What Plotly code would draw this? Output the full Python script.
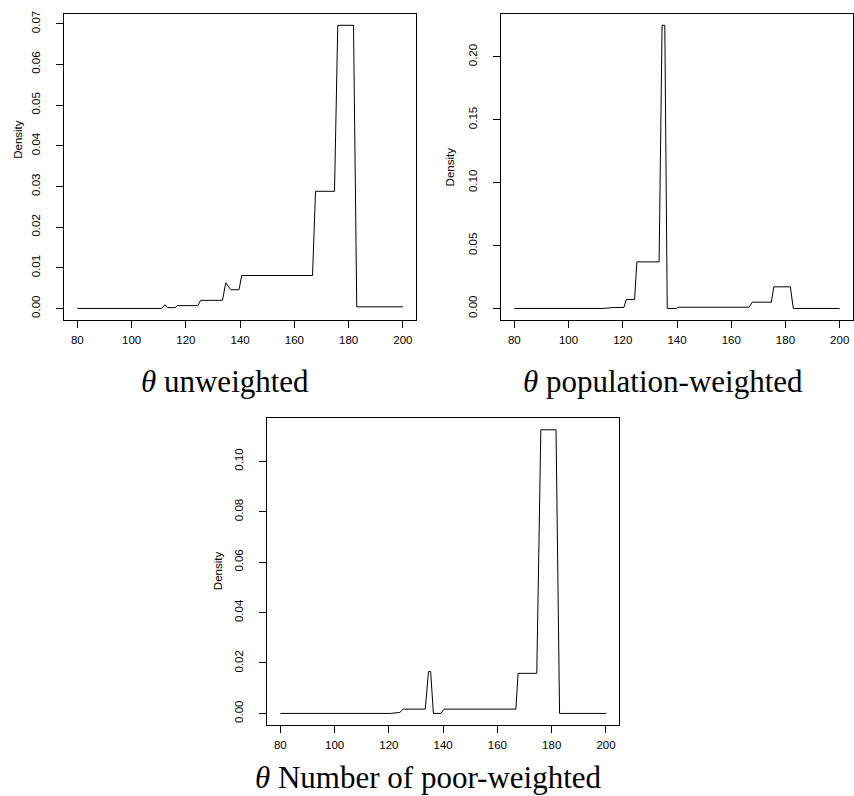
import plotly.graph_objects as go

W, H = 854, 796

# ---- data (theta, density) ----
theta_unw = [80, 111.1, 112.3, 113.2, 116.0, 116.9, 124.4, 125.5, 133.5, 134.7, 136.6,
             139.6, 140.6, 166.7, 167.8, 174.8, 176.0, 181.8, 183.0, 200]
dens_unw = [0.0000, 0.0000, 0.0009, 0.0002, 0.0002, 0.0007, 0.0007, 0.0020, 0.0020, 0.0063,
            0.0046, 0.0046, 0.0081, 0.0081, 0.0288, 0.0288, 0.0696, 0.0696, 0.0004, 0.0004]

theta_pop = [80, 112.8, 116.7, 120.4, 121.3, 124.35, 125.2, 133.4, 134.5, 135.5, 136.4,
             139.8, 140.5, 166.6, 167.8, 174.8, 175.7, 181.8, 182.9, 200]
dens_pop = [0.0000, 0.0000, 0.0008, 0.0008, 0.0071, 0.0071, 0.0370, 0.0370, 0.2250, 0.2250,
            0.0000, 0.0000, 0.0010, 0.0010, 0.0050, 0.0050, 0.0172, 0.0172, 0.0000, 0.0000]

theta_poor = [80, 120.6, 124.05, 125.3, 133.4, 134.6, 135.4, 136.4, 139.2, 140.3, 166.8,
              167.6, 174.5, 176.0, 181.6, 182.9, 200]
dens_poor = [0.0000, 0.0000, 0.0004, 0.0017, 0.0017, 0.0166, 0.0166, 0.0000, 0.0000, 0.0017,
             0.0017, 0.0159, 0.0159, 0.1125, 0.1125, 0.0000, 0.0000]

x_ticks = [80, 100, 120, 140, 160, 180, 200]
y_ticks_unw = [0.00, 0.01, 0.02, 0.03, 0.04, 0.05, 0.06, 0.07]
y_ticks_pop = [0.00, 0.05, 0.10, 0.15, 0.20]
y_ticks_poor = [0.00, 0.02, 0.04, 0.06, 0.08, 0.10]

titles = ["<i>θ</i> unweighted", "<i>θ</i> population-weighted",
          "<i>θ</i> Number of poor-weighted"]

# ---- layout geometry (pixels) ----
panels = [
    dict(x0=64.3, x1=415.9, y0=11, y1=318, yr=[-0.00279, 0.07239], yt=y_ticks_unw,
         tx=224.7, ty=380, dx=18.3, dy=137),
    dict(x0=501.3, x1=852.7, y0=11, y1=318, yr=[-0.009, 0.234], yt=y_ticks_pop,
         tx=663, ty=380, dx=450, dy=165),
    dict(x0=267.3, x1=619.0, y0=417, y1=724.5, yr=[-0.0045, 0.117], yt=y_ticks_poor,
         tx=428.7, ty=777, dx=218.3, dy=570),
]
series = [(theta_unw, dens_unw), (theta_pop, dens_pop), (theta_poor, dens_poor)]

fig = go.Figure()
tick_font = dict(family="Liberation Sans, Arial, sans-serif", size=11.5, color="black")
annotations = []
for i, (p, (xs, ys)) in enumerate(zip(panels, series)):
    n = "" if i == 0 else str(i + 1)
    fig.add_trace(go.Scatter(x=xs, y=ys, mode="lines", xaxis="x" + n, yaxis="y" + n,
                             line=dict(color="black", width=1), showlegend=False,
                             hoverinfo="skip"))
    common = dict(showline=True, linecolor="black", linewidth=1, mirror=True,
                  ticks="outside", ticklen=7, tickwidth=1, tickcolor="black",
                  showgrid=False, zeroline=False, tickfont=tick_font)
    fig.layout["xaxis" + n] = dict(
        domain=[p["x0"] / W, p["x1"] / W], anchor="y" + n,
        range=[75.2, 204.8], tickvals=x_ticks, ticktext=[str(v) for v in x_ticks],
        ticklabelstandoff=2, **common)
    fig.layout["yaxis" + n] = dict(
        domain=[1 - p["y1"] / H, 1 - p["y0"] / H], anchor="x" + n,
        range=p["yr"], tickvals=p["yt"], ticktext=["%.2f" % v for v in p["yt"]],
        tickangle=-90, ticklabelstandoff=12, **common)
    annotations.append(dict(text=titles[i], x=p["tx"] / W, y=1 - p["ty"] / H,
                            xref="paper", yref="paper", showarrow=False,
                            xanchor="center", yanchor="middle",
                            font=dict(family="Liberation Serif, serif", size=31,
                                      color="black")))
    annotations.append(dict(text="Density", x=p["dx"] / W, y=1 - p["dy"] / H,
                            xref="paper", yref="paper", showarrow=False, textangle=-90,
                            xanchor="center", yanchor="middle", font=tick_font))

fig.update_layout(width=W, height=H, margin=dict(l=0, r=0, t=0, b=0),
                  paper_bgcolor="white", plot_bgcolor="white",
                  annotations=annotations)

fig.write_html("out.html", config={"displayModeBar": False},
               post_script="document.body.style.margin='0';document.body.style.overflow='hidden';")
